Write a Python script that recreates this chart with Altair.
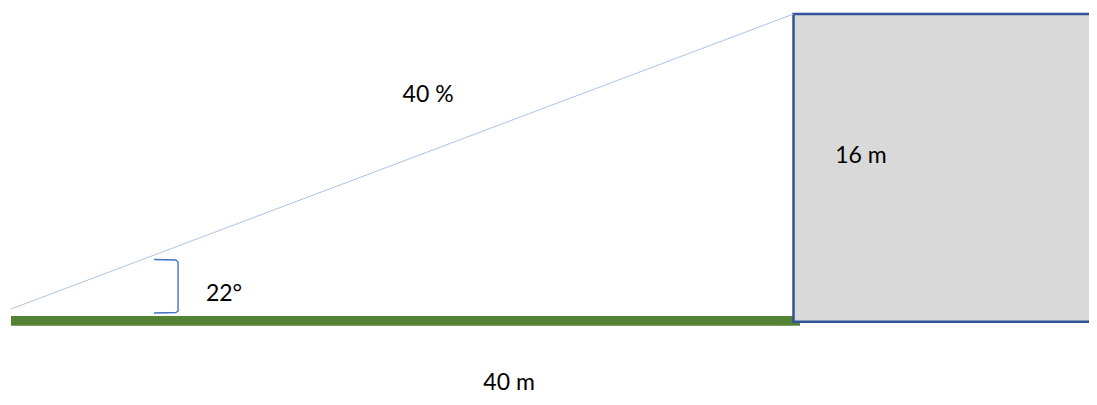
import altair as alt
import pandas as pd

# Diagram values (metres)
ground_length = 40.0
wall_height = 16.0
slope_text = "40 %"
angle_text = "22°"
wall_text = "16 m"
base_text = "40 m"

# ground strip
ground_x = [0.0]
ground_x2 = [40.33]
ground_y = [-0.245]
ground_y2 = [0.26]

# wall box
box_x = [40.0]
box_x2 = [56.0]
box_y = [-0.036]
box_y2 = [16.0]

# slope line
slope_x = [0.0, 40.0]
slope_y = [0.625, 16.0]

# angle bracket
bracket_x = [7.31, 8.43, 8.54, 8.54, 8.43, 7.31]
bracket_y = [3.205, 3.179, 3.075, 0.521, 0.443, 0.417]

# labels
label_text = [slope_text, wall_text, angle_text, base_text]
label_x = [21.32, 43.45, 10.89, 25.46]
label_y = [11.43, 8.22, 1.058, -3.62]

W, H = 1081, 389
xs = alt.Scale(domain=[-0.1534, 55.105], nice=False, zero=False)
ys = alt.Scale(domain=[-3.961, 16.313], nice=False, zero=False)

ground_df = pd.DataFrame({"x": ground_x, "x2": ground_x2, "y": ground_y, "y2": ground_y2})
box_df = pd.DataFrame({"x": box_x, "x2": box_x2, "y": box_y, "y2": box_y2})
slope_df = pd.DataFrame({"x": slope_x, "y": slope_y})
bracket_df = pd.DataFrame({"x": bracket_x, "y": bracket_y, "o": list(range(len(bracket_x)))})
label_df = pd.DataFrame({"t": label_text, "x": label_x, "y": label_y})

ground = alt.Chart(ground_df).mark_rect(color="#548235").encode(
    x=alt.X("x:Q", scale=xs, axis=None), x2="x2", y=alt.Y("y:Q", scale=ys, axis=None), y2="y2")

box = alt.Chart(box_df).mark_rect(fill="#d9d9d9", stroke="#2f5597", strokeWidth=2.5, clip=True).encode(
    x=alt.X("x:Q", scale=xs, axis=None), x2="x2", y=alt.Y("y:Q", scale=ys, axis=None), y2="y2")

slope = alt.Chart(slope_df).mark_line(color="#aec3e8", strokeWidth=1).encode(
    x=alt.X("x:Q", scale=xs, axis=None), y=alt.Y("y:Q", scale=ys, axis=None))

bracket = alt.Chart(bracket_df).mark_line(color="#4472c4", strokeWidth=1.4).encode(
    x=alt.X("x:Q", scale=xs, axis=None), y=alt.Y("y:Q", scale=ys, axis=None), order="o:Q")

labels = alt.Chart(label_df).mark_text(font="Lato", fontSize=23, color="#000000",
                                       align="center", baseline="alphabetic").encode(
    x=alt.X("x:Q", scale=xs, axis=None), y=alt.Y("y:Q", scale=ys, axis=None), text="t:N")

chart = alt.layer(ground, box, slope, bracket, labels).properties(
    width=W, height=H, padding=0, autosize=alt.AutoSizeParams(type="none"),
    background="white"
).configure_view(stroke=None)

chart.save("out.html", embed_options={"renderer": "svg", "actions": False})
